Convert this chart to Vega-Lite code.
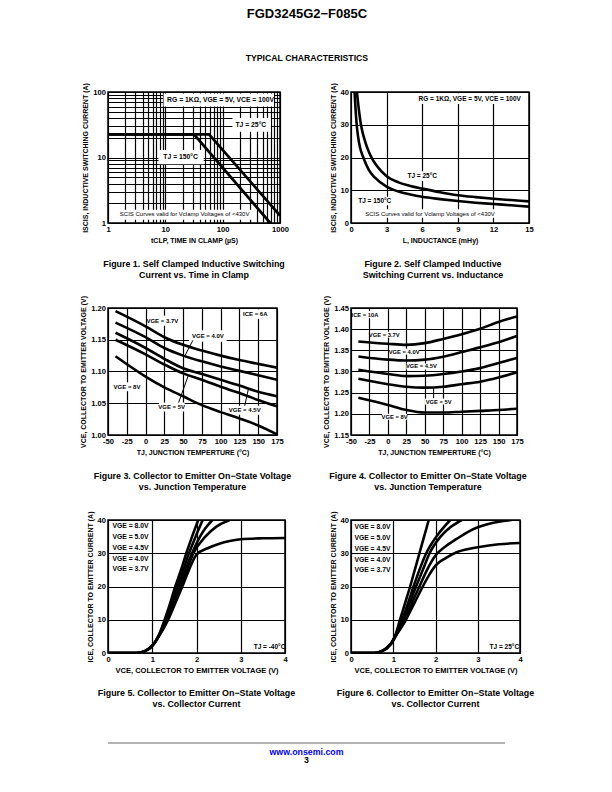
{
"$schema": "https://vega.github.io/schema/vega-lite/v6.json",
"background": "white",
"padding": {"left": 78, "top": 8, "right": 0, "bottom": 0},
"title": {"text": "FGD3245G2−F085C", "subtitle": "TYPICAL CHARACTERISTICS", "font": "Liberation Sans", "subtitleFont": "Liberation Sans", "fontSize": 13, "subtitleFontSize": 8.7, "fontWeight": "bold", "subtitleFontWeight": "bold", "color": "black", "subtitleColor": "black", "subtitlePadding": 33, "anchor": "middle", "frame": "bounds", "offset": 19},
"config": {
  "font": "Liberation Sans",
  "view": {"stroke": "black", "strokeWidth": 1.5},
  "axis": {"grid": true, "gridColor": "black", "gridWidth": 1.2, "gridOpacity": 1, "domain": false, "ticks": false, "labelFont": "Liberation Sans", "labelFontWeight": "bold", "labelFontSize": 7.6, "labelColor": "black", "labelPadding": 2.5, "labelFlush": false, "labelOverlap": false, "titleFont": "Liberation Sans", "titleFontWeight": "bold", "titleFontSize": 7, "titleColor": "black", "titlePadding": 3},
  "axisY": {"titlePadding": 4},
  "text": {"font": "Liberation Sans", "fontWeight": "bold", "fontSize": 6, "color": "black"},
  "line": {"color": "black", "strokeWidth": 2.6},
  "rect": {"color": "white"},
  "rule": {"color": "black", "strokeWidth": 1}
},
"spacing": 32,
"vconcat": [
{
"columns": 2,
"bounds": "flush",
"align": "each",
"spacing": {"row": 85, "column": 66},
"concat": [
{
  "width": 172, "height": 131,
  "title": {"text": ["Figure 1. Self Clamped Inductive Switching", "Current vs. Time in Clamp"], "orient": "bottom", "anchor": "middle", "font": "Liberation Sans", "fontSize": 8.9, "fontWeight": "bold", "color": "black", "offset": 17, "lineHeight": 11},
  "encoding": {
    "x": {"field": "x", "type": "quantitative", "scale": {"type": "log", "domain": [1, 1000], "nice": false}, "axis": {"values": [1,2,3,4,5,6,7,8,9,10,20,30,40,50,60,70,80,90,100,200,300,400,500,600,700,800,900,1000], "format": "d", "labelExpr": "indexof([1,10,100,1000], datum.value) >= 0 ? datum.label : ''", "title": "tCLP, TIME IN CLAMP (µS)"}},
    "y": {"field": "y", "type": "quantitative", "scale": {"type": "log", "domain": [1, 100], "nice": false}, "axis": {"values": [1,2,3,4,5,6,7,8,9,10,20,30,40,50,60,70,80,90,100], "format": "d", "labelExpr": "indexof([1,10,100], datum.value) >= 0 ? datum.label : ''", "title": "ISCIS, INDUCTIVE SWITCHING CURRENT (A)"}}
  },
  "layer": [
    {"data": {"values": [{"x": 9.3, "x2": 785, "y": 60, "y2": 95}, {"x": 148, "x2": 695, "y": 24.8, "y2": 40}, {"x": 7.6, "x2": 46.7, "y": 7.9, "y2": 13}, {"x": 1.35, "x2": 360, "y": 1.12, "y2": 1.6}]},
     "mark": {"type": "rect", "fill": "white"}, "encoding": {"x2": {"field": "x2"}, "y2": {"field": "y2"}}},
    {"data": {"values": [{"s": "25", "x": 1, "y": 22.6}, {"s": "25", "x": 57.8, "y": 22.6}, {"s": "25", "x": 1000, "y": 1.3}, {"s": "150", "x": 1, "y": 22.6}, {"s": "150", "x": 31.6, "y": 22.6}, {"s": "150", "x": 676, "y": 1.0}]},
     "mark": {"type": "line", "clip": true, "strokeWidth": 2.7}, "encoding": {"detail": {"field": "s"}}},
    {"data": {"values": [{"x": 92, "y": 75, "t": "RG = 1KΩ, VGE = 5V, VCE = 100V"}, {"x": 310, "y": 31.5, "t": "TJ = 25°C"}, {"x": 18.5, "y": 10.2, "t": "TJ = 150°C"}]},
     "mark": {"type": "text", "fontSize": 6.8}, "encoding": {"text": {"field": "t"}}},
    {"data": {"values": [{"x": 21.7, "y": 1.38, "t": "SCIS Curves valid for Vclamp Voltages of <430V"}]},
     "mark": {"type": "text", "fontSize": 6, "fontWeight": "normal"}, "encoding": {"text": {"field": "t"}}}
  ]
},
{
  "width": 178, "height": 131,
  "title": {"text": ["Figure 2. Self Clamped Inductive", "Switching  Current vs. Inductance"], "orient": "bottom", "anchor": "middle", "font": "Liberation Sans", "fontSize": 8.9, "fontWeight": "bold", "color": "black", "offset": 17, "lineHeight": 11, "dx": -7},
  "encoding": {
    "x": {"field": "x", "type": "quantitative", "scale": {"domain": [0, 15], "nice": false, "zero": false}, "axis": {"values": [0,3,6,9,12,15], "title": "L, INDUCTANCE (mHy)"}},
    "y": {"field": "y", "type": "quantitative", "scale": {"domain": [0, 40], "nice": false}, "axis": {"values": [0,10,20,30,40], "title": "ISCIS, INDUCTIVE SWITCHING CURRENT (A)"}}
  },
  "layer": [
    {"data": {"values": [{"x": 5.5, "x2": 14.8, "y": 36.3, "y2": 39.6}, {"x": 5.0, "x2": 7.0, "y": 12.8, "y2": 15.8}, {"x": 0.4, "x2": 3.6, "y": 5.4, "y2": 8.0}, {"x": 0.7, "x2": 12.7, "y": 1.6, "y2": 4.2}]},
     "mark": {"type": "rect", "fill": "white"}, "encoding": {"x2": {"field": "x2"}, "y2": {"field": "y2"}}},
    {"data": {"values": [
      {"s": "25", "x": 0.5, "y": 40}, {"s": "25", "x": 0.6, "y": 36.5}, {"s": "25", "x": 0.7, "y": 33.5}, {"s": "25", "x": 0.84, "y": 30}, {"s": "25", "x": 1.0, "y": 27.3}, {"s": "25", "x": 1.2, "y": 24.8}, {"s": "25", "x": 1.45, "y": 22.2}, {"s": "25", "x": 1.7, "y": 20.2}, {"s": "25", "x": 2.2, "y": 17.3}, {"s": "25", "x": 3, "y": 14.3}, {"s": "25", "x": 4, "y": 12.4}, {"s": "25", "x": 5, "y": 11.3}, {"s": "25", "x": 6, "y": 10.5}, {"s": "25", "x": 7.5, "y": 9.4}, {"s": "25", "x": 9, "y": 8.5}, {"s": "25", "x": 10.5, "y": 7.9}, {"s": "25", "x": 12, "y": 7.4}, {"s": "25", "x": 13.5, "y": 7.0}, {"s": "25", "x": 15, "y": 6.6},
      {"s": "150", "x": 0.3, "y": 40}, {"s": "150", "x": 0.38, "y": 35}, {"s": "150", "x": 0.48, "y": 30}, {"s": "150", "x": 0.6, "y": 26.3}, {"s": "150", "x": 0.75, "y": 23.2}, {"s": "150", "x": 1.04, "y": 20}, {"s": "150", "x": 1.5, "y": 16.2}, {"s": "150", "x": 2, "y": 13.9}, {"s": "150", "x": 3, "y": 11.1}, {"s": "150", "x": 4, "y": 9.6}, {"s": "150", "x": 5, "y": 8.7}, {"s": "150", "x": 6, "y": 8.0}, {"s": "150", "x": 7.5, "y": 7.3}, {"s": "150", "x": 9, "y": 6.7}, {"s": "150", "x": 10.5, "y": 6.2}, {"s": "150", "x": 12, "y": 5.8}, {"s": "150", "x": 13.5, "y": 5.4}, {"s": "150", "x": 15, "y": 5.0}]},
     "mark": {"type": "line", "clip": true, "interpolate": "monotone"}, "encoding": {"detail": {"field": "s"}}},
    {"data": {"values": [{"x": 10.0, "y": 37.9, "t": "RG = 1KΩ, VGE = 5V, VCE = 100V"}, {"x": 6.0, "y": 14.3, "t": "TJ = 25°C"}, {"x": 2.0, "y": 6.7, "t": "TJ = 150°C"}]},
     "mark": {"type": "text", "fontSize": 6.5}, "encoding": {"text": {"field": "t"}}},
    {"data": {"values": [{"x": 6.66, "y": 2.9, "t": "SCIS Curves valid for Vclamp Voltages of <430V"}]},
     "mark": {"type": "text", "fontSize": 6, "fontWeight": "normal"}, "encoding": {"text": {"field": "t"}}}
  ]
},
{
  "width": 169, "height": 127,
  "title": {"text": ["Figure 3. Collector to Emitter On−State Voltage", "vs. Junction Temperature"], "orient": "bottom", "anchor": "middle", "font": "Liberation Sans", "fontSize": 8.9, "fontWeight": "bold", "color": "black", "offset": 17, "lineHeight": 11},
  "encoding": {
    "x": {"field": "x", "type": "quantitative", "scale": {"domain": [-50, 175], "nice": false, "zero": false}, "axis": {"values": [-50,-25,0,25,50,75,100,125,150,175], "labelExpr": "replace(datum.label, '−', '-')", "title": "TJ, JUNCTION TEMPERTURE (°C)"}},
    "y": {"field": "y", "type": "quantitative", "scale": {"domain": [1.0, 1.2], "nice": false, "zero": false}, "axis": {"values": [1.0,1.05,1.1,1.15,1.2], "format": ".2f", "title": "VCE, COLLECTOR TO EMITTER VOLTAGE (V)"}}
  },
  "layer": [
    {"data": {"values": [{"x": 3, "x2": 42, "y": 1.172, "y2": 1.188}, {"x": 130, "x2": 163, "y": 1.183, "y2": 1.198}, {"x": 58, "x2": 108, "y": 1.147, "y2": 1.165}, {"x": -39, "x2": -10, "y": 1.069, "y2": 1.083}, {"x": 18, "x2": 52, "y": 1.037, "y2": 1.051}, {"x": 112, "x2": 152, "y": 1.032, "y2": 1.046}]},
     "mark": {"type": "rect", "fill": "white"}, "encoding": {"x2": {"field": "x2"}, "y2": {"field": "y2"}}},
    {"data": {"values": [
      {"s": "3.7", "x": -40, "y": 1.195}, {"s": "3.7", "x": 0, "y": 1.171}, {"s": "3.7", "x": 25, "y": 1.154}, {"s": "3.7", "x": 50, "y": 1.142}, {"s": "3.7", "x": 75, "y": 1.133}, {"s": "3.7", "x": 100, "y": 1.125}, {"s": "3.7", "x": 125, "y": 1.118}, {"s": "3.7", "x": 150, "y": 1.112}, {"s": "3.7", "x": 175, "y": 1.106},
      {"s": "4.0", "x": -40, "y": 1.177}, {"s": "4.0", "x": 0, "y": 1.154}, {"s": "4.0", "x": 25, "y": 1.137}, {"s": "4.0", "x": 50, "y": 1.125}, {"s": "4.0", "x": 75, "y": 1.116}, {"s": "4.0", "x": 100, "y": 1.108}, {"s": "4.0", "x": 125, "y": 1.101}, {"s": "4.0", "x": 150, "y": 1.094}, {"s": "4.0", "x": 175, "y": 1.087},
      {"s": "4.5", "x": -40, "y": 1.161}, {"s": "4.5", "x": 0, "y": 1.137}, {"s": "4.5", "x": 25, "y": 1.120}, {"s": "4.5", "x": 50, "y": 1.105}, {"s": "4.5", "x": 75, "y": 1.096}, {"s": "4.5", "x": 100, "y": 1.087}, {"s": "4.5", "x": 125, "y": 1.078}, {"s": "4.5", "x": 150, "y": 1.068}, {"s": "4.5", "x": 175, "y": 1.061},
      {"s": "5", "x": -40, "y": 1.150}, {"s": "5", "x": 0, "y": 1.127}, {"s": "5", "x": 25, "y": 1.111}, {"s": "5", "x": 50, "y": 1.097}, {"s": "5", "x": 75, "y": 1.087}, {"s": "5", "x": 100, "y": 1.076}, {"s": "5", "x": 125, "y": 1.066}, {"s": "5", "x": 150, "y": 1.055}, {"s": "5", "x": 175, "y": 1.045},
      {"s": "8", "x": -40, "y": 1.124}, {"s": "8", "x": 0, "y": 1.092}, {"s": "8", "x": 25, "y": 1.075}, {"s": "8", "x": 50, "y": 1.061}, {"s": "8", "x": 75, "y": 1.047}, {"s": "8", "x": 100, "y": 1.036}, {"s": "8", "x": 125, "y": 1.026}, {"s": "8", "x": 150, "y": 1.015}, {"s": "8", "x": 175, "y": 1.001}]},
     "mark": {"type": "line", "clip": true, "interpolate": "monotone"}, "encoding": {"detail": {"field": "s"}}},
    {"data": {"values": [{"x": 63, "y": 1.149, "x2": 52, "y2": 1.124}, {"x": 44, "y": 1.051, "x2": 57, "y2": 1.094}, {"x": 132, "y": 1.046, "x2": 137, "y2": 1.073}]},
     "mark": {"type": "rule", "strokeWidth": 1}, "encoding": {"x2": {"field": "x2"}, "y2": {"field": "y2"}}},
    {"data": {"values": [{"x": 22.3, "y": 1.180, "t": "VGE = 3.7V"}, {"x": 146, "y": 1.1905, "t": "ICE = 6A"}, {"x": 83, "y": 1.156, "t": "VGE = 4.0V"}, {"x": -24.7, "y": 1.076, "t": "VGE = 8V"}, {"x": 34.8, "y": 1.044, "t": "VGE = 5V"}, {"x": 132, "y": 1.039, "t": "VGE = 4.5V"}]},
     "mark": {"type": "text", "fontSize": 6}, "encoding": {"text": {"field": "t"}}}
  ]
},
{
  "width": 166, "height": 127,
  "title": {"text": ["Figure 4. Collector to Emitter On−State Voltage", "vs. Junction Temperature"], "orient": "bottom", "anchor": "middle", "font": "Liberation Sans", "fontSize": 8.9, "fontWeight": "bold", "color": "black", "offset": 17, "lineHeight": 11, "dx": -6},
  "encoding": {
    "x": {"field": "x", "type": "quantitative", "scale": {"domain": [-50, 175], "nice": false, "zero": false}, "axis": {"values": [-50,-25,0,25,50,75,100,125,150,175], "labelExpr": "replace(datum.label, '−', '-')", "title": "TJ, JUNCTION TEMPERTURE (°C)"}},
    "y": {"field": "y", "type": "quantitative", "scale": {"domain": [1.15, 1.45], "nice": false, "zero": false}, "axis": {"values": [1.15,1.2,1.25,1.3,1.35,1.4,1.45], "format": ".2f", "title": "VCE, COLLECTOR TO EMITTER VOLTAGE (V)"}}
  },
  "layer": [
    {"data": {"values": [{"x": -46, "x2": -16, "y": 1.426, "y2": 1.443}, {"x": -24, "x2": 14, "y": 1.380, "y2": 1.394}, {"x": 2, "x2": 42, "y": 1.340, "y2": 1.354}, {"x": 25, "x2": 66, "y": 1.305, "y2": 1.319}, {"x": 50, "x2": 88, "y": 1.222, "y2": 1.236}, {"x": -8, "x2": 26, "y": 1.186, "y2": 1.200}]},
     "mark": {"type": "rect", "fill": "white"}, "encoding": {"x2": {"field": "x2"}, "y2": {"field": "y2"}}},
    {"data": {"values": [
      {"s": "3.7", "x": -40, "y": 1.371}, {"s": "3.7", "x": 0, "y": 1.3655}, {"s": "3.7", "x": 25, "y": 1.363}, {"s": "3.7", "x": 50, "y": 1.367}, {"s": "3.7", "x": 75, "y": 1.377}, {"s": "3.7", "x": 100, "y": 1.388}, {"s": "3.7", "x": 125, "y": 1.401}, {"s": "3.7", "x": 150, "y": 1.417}, {"s": "3.7", "x": 175, "y": 1.430},
      {"s": "4.0", "x": -40, "y": 1.3355}, {"s": "4.0", "x": 0, "y": 1.328}, {"s": "4.0", "x": 25, "y": 1.326}, {"s": "4.0", "x": 50, "y": 1.328}, {"s": "4.0", "x": 75, "y": 1.335}, {"s": "4.0", "x": 100, "y": 1.346}, {"s": "4.0", "x": 125, "y": 1.357}, {"s": "4.0", "x": 150, "y": 1.369}, {"s": "4.0", "x": 175, "y": 1.384},
      {"s": "4.5", "x": -40, "y": 1.304}, {"s": "4.5", "x": 0, "y": 1.294}, {"s": "4.5", "x": 25, "y": 1.289}, {"s": "4.5", "x": 50, "y": 1.290}, {"s": "4.5", "x": 75, "y": 1.294}, {"s": "4.5", "x": 100, "y": 1.300}, {"s": "4.5", "x": 125, "y": 1.308}, {"s": "4.5", "x": 150, "y": 1.320}, {"s": "4.5", "x": 175, "y": 1.332},
      {"s": "5", "x": -40, "y": 1.283}, {"s": "5", "x": 0, "y": 1.270}, {"s": "5", "x": 25, "y": 1.264}, {"s": "5", "x": 50, "y": 1.262}, {"s": "5", "x": 75, "y": 1.264}, {"s": "5", "x": 100, "y": 1.270}, {"s": "5", "x": 125, "y": 1.276}, {"s": "5", "x": 150, "y": 1.286}, {"s": "5", "x": 175, "y": 1.298},
      {"s": "8", "x": -40, "y": 1.238}, {"s": "8", "x": 0, "y": 1.221}, {"s": "8", "x": 25, "y": 1.209}, {"s": "8", "x": 50, "y": 1.203}, {"s": "8", "x": 75, "y": 1.203}, {"s": "8", "x": 100, "y": 1.205}, {"s": "8", "x": 125, "y": 1.207}, {"s": "8", "x": 150, "y": 1.209}, {"s": "8", "x": 175, "y": 1.212}]},
     "mark": {"type": "line", "clip": true, "interpolate": "monotone"}, "encoding": {"detail": {"field": "s"}}},
    {"data": {"values": [{"x": 62, "y": 1.237, "x2": 62, "y2": 1.262}]},
     "mark": {"type": "rule", "strokeWidth": 1}, "encoding": {"x2": {"field": "x2"}, "y2": {"field": "y2"}}},
    {"data": {"values": [{"x": -31, "y": 1.434, "t": "ICE = 10A"}, {"x": -5, "y": 1.387, "t": "VGE = 3.7V"}, {"x": 22, "y": 1.347, "t": "VGE = 4.0V"}, {"x": 45.4, "y": 1.312, "t": "VGE = 4.5V"}, {"x": 68.8, "y": 1.229, "t": "VGE = 5V"}, {"x": 9, "y": 1.193, "t": "VGE = 8V"}]},
     "mark": {"type": "text", "fontSize": 5.8}, "encoding": {"text": {"field": "t"}}}
  ]
},
{
  "width": 177, "height": 133,
  "title": {"text": ["Figure 5. Collector to Emitter On−State Voltage", "vs. Collector Current"], "orient": "bottom", "anchor": "middle", "font": "Liberation Sans", "fontSize": 8.9, "fontWeight": "bold", "color": "black", "offset": 15, "lineHeight": 11},
  "encoding": {
    "x": {"field": "x", "type": "quantitative", "scale": {"domain": [0, 4], "nice": false}, "axis": {"values": [0,1,2,3,4], "title": "VCE, COLLECTOR TO EMITTER VOLTAGE (V)", "titleFontSize": 7.5}},
    "y": {"field": "y", "type": "quantitative", "scale": {"domain": [0, 40], "nice": false}, "axis": {"values": [0,10,20,30,40], "title": "ICE, COLLECTOR TO EMITTER CURRENT (A)"}}
  },
  "layer": [
    {"data": {"values": [
      {"s": "8", "x": 0, "y": 0}, {"s": "8", "x": 0.65, "y": 0}, {"s": "8", "x": 0.78, "y": 0.3}, {"s": "8", "x": 0.88, "y": 0.9}, {"s": "8", "x": 0.97, "y": 1.8}, {"s": "8", "x": 1.05, "y": 3.0}, {"s": "8", "x": 1.15, "y": 5.4}, {"s": "8", "x": 1.28, "y": 10}, {"s": "8", "x": 1.4, "y": 14.8}, {"s": "8", "x": 1.52, "y": 20}, {"s": "8", "x": 1.65, "y": 25}, {"s": "8", "x": 1.77, "y": 30}, {"s": "8", "x": 1.9, "y": 35}, {"s": "8", "x": 2.04, "y": 40},
      {"s": "5", "x": 0, "y": 0}, {"s": "5", "x": 0.65, "y": 0}, {"s": "5", "x": 0.78, "y": 0.3}, {"s": "5", "x": 0.88, "y": 0.9}, {"s": "5", "x": 0.97, "y": 1.8}, {"s": "5", "x": 1.05, "y": 3.0}, {"s": "5", "x": 1.15, "y": 5.3}, {"s": "5", "x": 1.30, "y": 10}, {"s": "5", "x": 1.43, "y": 15}, {"s": "5", "x": 1.56, "y": 20}, {"s": "5", "x": 1.70, "y": 25}, {"s": "5", "x": 1.83, "y": 30}, {"s": "5", "x": 1.98, "y": 35}, {"s": "5", "x": 2.14, "y": 40},
      {"s": "4.5", "x": 0, "y": 0}, {"s": "4.5", "x": 0.65, "y": 0}, {"s": "4.5", "x": 0.78, "y": 0.3}, {"s": "4.5", "x": 0.88, "y": 0.9}, {"s": "4.5", "x": 0.97, "y": 1.8}, {"s": "4.5", "x": 1.05, "y": 3.0}, {"s": "4.5", "x": 1.15, "y": 5.2}, {"s": "4.5", "x": 1.32, "y": 10}, {"s": "4.5", "x": 1.46, "y": 15}, {"s": "4.5", "x": 1.60, "y": 20}, {"s": "4.5", "x": 1.75, "y": 25}, {"s": "4.5", "x": 1.90, "y": 30}, {"s": "4.5", "x": 2.08, "y": 35}, {"s": "4.5", "x": 2.2, "y": 37.5}, {"s": "4.5", "x": 2.36, "y": 40},
      {"s": "4.0", "x": 0, "y": 0}, {"s": "4.0", "x": 0.65, "y": 0}, {"s": "4.0", "x": 0.78, "y": 0.3}, {"s": "4.0", "x": 0.88, "y": 0.9}, {"s": "4.0", "x": 0.97, "y": 1.8}, {"s": "4.0", "x": 1.05, "y": 3.0}, {"s": "4.0", "x": 1.15, "y": 5.1}, {"s": "4.0", "x": 1.34, "y": 10}, {"s": "4.0", "x": 1.49, "y": 15}, {"s": "4.0", "x": 1.64, "y": 20}, {"s": "4.0", "x": 1.78, "y": 25}, {"s": "4.0", "x": 1.93, "y": 30}, {"s": "4.0", "x": 2.2, "y": 35}, {"s": "4.0", "x": 2.45, "y": 38}, {"s": "4.0", "x": 2.75, "y": 40},
      {"s": "3.7", "x": 0, "y": 0}, {"s": "3.7", "x": 0.65, "y": 0}, {"s": "3.7", "x": 0.78, "y": 0.3}, {"s": "3.7", "x": 0.88, "y": 0.9}, {"s": "3.7", "x": 0.97, "y": 1.8}, {"s": "3.7", "x": 1.05, "y": 3.0}, {"s": "3.7", "x": 1.15, "y": 5.0}, {"s": "3.7", "x": 1.36, "y": 10}, {"s": "3.7", "x": 1.52, "y": 15}, {"s": "3.7", "x": 1.68, "y": 20}, {"s": "3.7", "x": 1.83, "y": 25}, {"s": "3.7", "x": 2.0, "y": 29.6}, {"s": "3.7", "x": 2.25, "y": 31.5}, {"s": "3.7", "x": 2.5, "y": 32.8}, {"s": "3.7", "x": 2.75, "y": 33.7}, {"s": "3.7", "x": 3.0, "y": 34.2}, {"s": "3.7", "x": 3.5, "y": 34.5}, {"s": "3.7", "x": 4.0, "y": 34.6}]},
     "mark": {"type": "line", "clip": true, "interpolate": "monotone"}, "encoding": {"detail": {"field": "s"}}},
    {"data": {"values": [{"x": 0.1, "y": 38.2, "t": "VGE = 8.0V"}, {"x": 0.1, "y": 34.9, "t": "VGE = 5.0V"}, {"x": 0.1, "y": 31.6, "t": "VGE = 4.5V"}, {"x": 0.1, "y": 28.3, "t": "VGE = 4.0V"}, {"x": 0.1, "y": 25.3, "t": "VGE = 3.7V"}]},
     "mark": {"type": "text", "fontSize": 6.8, "align": "left"}, "encoding": {"text": {"field": "t"}}},
    {"data": {"values": [{"x": 3.65, "y": 1.8, "t": "TJ = -40°C"}]},
     "mark": {"type": "text", "fontSize": 6.5}, "encoding": {"text": {"field": "t"}}}
  ]
},
{
  "width": 169, "height": 133,
  "title": {"text": ["Figure 6. Collector to Emitter On−State Voltage", "vs. Collector Current"], "orient": "bottom", "anchor": "middle", "font": "Liberation Sans", "fontSize": 8.9, "fontWeight": "bold", "color": "black", "offset": 15, "lineHeight": 11},
  "encoding": {
    "x": {"field": "x", "type": "quantitative", "scale": {"domain": [0, 4], "nice": false}, "axis": {"values": [0,1,2,3,4], "title": "VCE, COLLECTOR TO EMITTER VOLTAGE (V)", "titleFontSize": 7.5}},
    "y": {"field": "y", "type": "quantitative", "scale": {"domain": [0, 40], "nice": false}, "axis": {"values": [0,10,20,30,40], "title": "ICE, COLLECTOR TO EMITTER CURRENT (A)"}}
  },
  "layer": [
    {"data": {"values": [
      {"s": "8", "x": 0, "y": 0}, {"s": "8", "x": 0.55, "y": 0}, {"s": "8", "x": 0.68, "y": 0.3}, {"s": "8", "x": 0.78, "y": 0.9}, {"s": "8", "x": 0.88, "y": 1.9}, {"s": "8", "x": 0.96, "y": 3.0}, {"s": "8", "x": 1.05, "y": 5.4}, {"s": "8", "x": 1.16, "y": 10}, {"s": "8", "x": 1.28, "y": 15}, {"s": "8", "x": 1.40, "y": 20}, {"s": "8", "x": 1.51, "y": 25}, {"s": "8", "x": 1.62, "y": 30}, {"s": "8", "x": 1.73, "y": 35}, {"s": "8", "x": 1.84, "y": 40},
      {"s": "5", "x": 0, "y": 0}, {"s": "5", "x": 0.55, "y": 0}, {"s": "5", "x": 0.68, "y": 0.3}, {"s": "5", "x": 0.78, "y": 0.9}, {"s": "5", "x": 0.88, "y": 1.9}, {"s": "5", "x": 0.96, "y": 3.0}, {"s": "5", "x": 1.05, "y": 5.2}, {"s": "5", "x": 1.21, "y": 10}, {"s": "5", "x": 1.35, "y": 15}, {"s": "5", "x": 1.48, "y": 20}, {"s": "5", "x": 1.62, "y": 25}, {"s": "5", "x": 1.78, "y": 30}, {"s": "5", "x": 2.02, "y": 35}, {"s": "5", "x": 2.35, "y": 40},
      {"s": "4.5", "x": 0, "y": 0}, {"s": "4.5", "x": 0.55, "y": 0}, {"s": "4.5", "x": 0.68, "y": 0.3}, {"s": "4.5", "x": 0.78, "y": 0.9}, {"s": "4.5", "x": 0.88, "y": 1.9}, {"s": "4.5", "x": 0.96, "y": 3.0}, {"s": "4.5", "x": 1.05, "y": 5.1}, {"s": "4.5", "x": 1.24, "y": 10}, {"s": "4.5", "x": 1.39, "y": 15}, {"s": "4.5", "x": 1.54, "y": 20}, {"s": "4.5", "x": 1.70, "y": 25}, {"s": "4.5", "x": 1.86, "y": 30}, {"s": "4.5", "x": 2.12, "y": 35}, {"s": "4.5", "x": 2.35, "y": 37.8}, {"s": "4.5", "x": 2.62, "y": 40},
      {"s": "4.0", "x": 0, "y": 0}, {"s": "4.0", "x": 0.55, "y": 0}, {"s": "4.0", "x": 0.68, "y": 0.3}, {"s": "4.0", "x": 0.78, "y": 0.9}, {"s": "4.0", "x": 0.88, "y": 1.9}, {"s": "4.0", "x": 0.96, "y": 3.0}, {"s": "4.0", "x": 1.05, "y": 5.0}, {"s": "4.0", "x": 1.27, "y": 10}, {"s": "4.0", "x": 1.44, "y": 15}, {"s": "4.0", "x": 1.62, "y": 20}, {"s": "4.0", "x": 1.80, "y": 25}, {"s": "4.0", "x": 2.0, "y": 29.3}, {"s": "4.0", "x": 2.25, "y": 32.2}, {"s": "4.0", "x": 2.5, "y": 34.3}, {"s": "4.0", "x": 2.75, "y": 36.3}, {"s": "4.0", "x": 3.0, "y": 37.8}, {"s": "4.0", "x": 3.25, "y": 38.8}, {"s": "4.0", "x": 3.5, "y": 39.5}, {"s": "4.0", "x": 3.8, "y": 40},
      {"s": "3.7", "x": 0, "y": 0}, {"s": "3.7", "x": 0.55, "y": 0}, {"s": "3.7", "x": 0.68, "y": 0.3}, {"s": "3.7", "x": 0.78, "y": 0.9}, {"s": "3.7", "x": 0.88, "y": 1.9}, {"s": "3.7", "x": 0.96, "y": 3.0}, {"s": "3.7", "x": 1.05, "y": 4.9}, {"s": "3.7", "x": 1.30, "y": 10}, {"s": "3.7", "x": 1.50, "y": 15}, {"s": "3.7", "x": 1.70, "y": 20}, {"s": "3.7", "x": 1.85, "y": 23.5}, {"s": "3.7", "x": 2.0, "y": 26.3}, {"s": "3.7", "x": 2.25, "y": 28.6}, {"s": "3.7", "x": 2.5, "y": 30.3}, {"s": "3.7", "x": 2.75, "y": 31.2}, {"s": "3.7", "x": 3.0, "y": 31.8}, {"s": "3.7", "x": 3.5, "y": 32.7}, {"s": "3.7", "x": 4.0, "y": 33.1}]},
     "mark": {"type": "line", "clip": true, "interpolate": "monotone"}, "encoding": {"detail": {"field": "s"}}},
    {"data": {"values": [{"x": 0.08, "y": 37.9, "t": "VGE = 8.0V"}, {"x": 0.08, "y": 34.6, "t": "VGE = 5.0V"}, {"x": 0.08, "y": 31.3, "t": "VGE = 4.5V"}, {"x": 0.08, "y": 28.0, "t": "VGE = 4.0V"}, {"x": 0.08, "y": 25.0, "t": "VGE = 3.7V"}]},
     "mark": {"type": "text", "fontSize": 6.8, "align": "left"}, "encoding": {"text": {"field": "t"}}},
    {"data": {"values": [{"x": 3.63, "y": 1.8, "t": "TJ = 25°C"}]},
     "mark": {"type": "text", "fontSize": 6.5}, "encoding": {"text": {"field": "t"}}}
  ]
}
]
},
{
  "width": 397, "height": 17,
  "view": {"stroke": null},
  "data": {"values": [{"k": "rule"}, {"k": "link", "t": "www.onsemi.com"}, {"k": "page", "t": "3"}]},
  "encoding": {"y": {"field": "k", "type": "ordinal", "scale": {"type": "point", "domain": ["rule", "link", "page"], "padding": 0}, "axis": null}},
  "layer": [
    {"transform": [{"filter": "datum.k === 'rule'"}], "mark": {"type": "rule", "color": "#b4b4b4", "strokeWidth": 2}},
    {"transform": [{"filter": "datum.k === 'link'"}], "mark": {"type": "text", "color": "#0000ff", "fontSize": 8.8, "fontWeight": "bold"}, "encoding": {"text": {"field": "t"}}},
    {"transform": [{"filter": "datum.k === 'page'"}], "mark": {"type": "text", "fontSize": 8.8, "fontWeight": "bold"}, "encoding": {"text": {"field": "t"}}}
  ]
}
]
}
